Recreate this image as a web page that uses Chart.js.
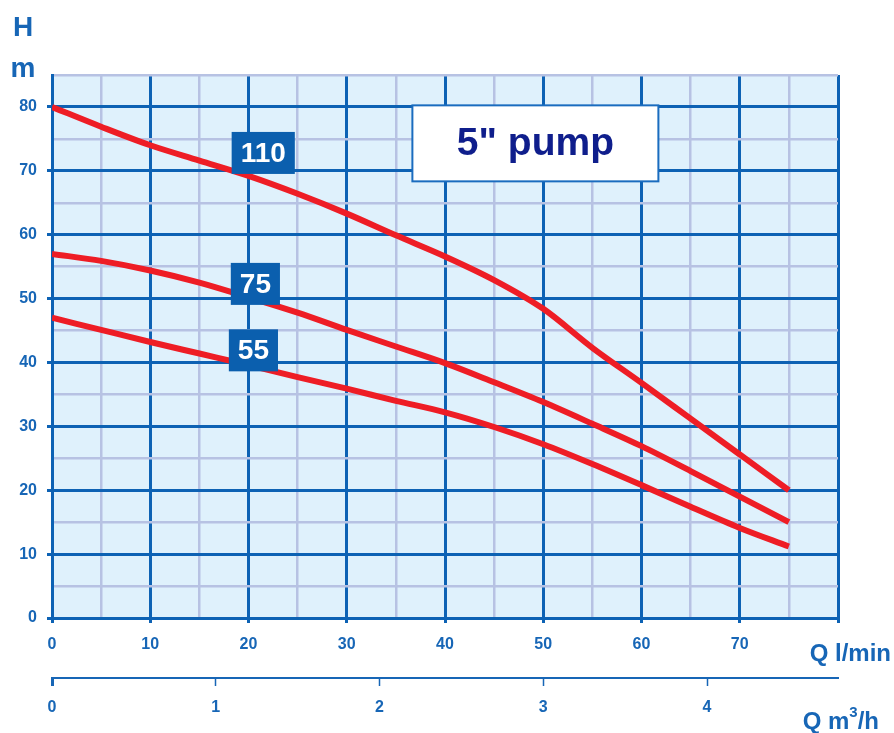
<!DOCTYPE html>
<html>
<head>
<meta charset="utf-8">
<script src="https://cdn.jsdelivr.net/npm/chart.js@4"></script>
<style>
  body { margin: 0; background: #ffffff; }
  #wrap { position: relative; width: 894px; height: 733px; }
</style>
</head>
<body>
<div id="wrap"><canvas id="pumpChart"></canvas></div>
<script>
// flow in l/min
var flow = [0, 5, 10, 15, 20, 25, 30, 35, 40, 45, 50, 55, 60, 65, 70, 75];
// head in m for each motor
var head110 = [80, 76.9, 74, 71.6, 69.2, 66.4, 63.3, 59.9, 56.6, 52.9, 48.4, 42.3, 36.8, 31.2, 25.6, 20];
var head75  = [57, 55.9, 54.4, 52.5, 50.2, 47.8, 45.1, 42.5, 39.9, 36.9, 33.8, 30.4, 26.9, 23, 19, 15];
var head55  = [47, 45.1, 43.2, 41.4, 39.6, 37.7, 35.9, 34, 32.2, 29.9, 27.2, 24.1, 20.8, 17.4, 14.1, 11.2];

var curveNames = ['110', '75', '55'];
// where the name boxes sit (l/min, m)
var nameAtQ = [21.5, 20.7, 20.5];
var nameAtH = [72.8, 52.3, 41.9];

var titleText = '5" pump';
var titleAtQ = 49.2;
var titleAtH = 74.3;

var BLUE = '#0d62b4';
var LAVENDER = '#b7c2e3';
var TEXTBLUE = '#1766b6';
var RED = '#ee1d25';
var FONT = '"Liberation Sans", Arial, sans-serif';

function toPoints(xs, ys) {
	var pts = [];
	for (var i = 0; i < xs.length; i++) {
		pts.push({x: xs[i], y: ys[i]});
	}
	return pts;
}

function isMajor(v) { return Math.abs(v % 10) < 0.001; }

var decorPlugin = {
	id: 'decor',
	beforeDraw: function(chart) {
		var ctx = chart.ctx, a = chart.chartArea;
		ctx.save();
		ctx.fillStyle = '#dff1fc';
		ctx.fillRect(a.left, a.top, a.right - a.left, a.bottom - a.top);
		ctx.restore();
	},
	afterDatasetsDraw: function(chart) {
		var ctx = chart.ctx;
		var xs = chart.scales.x, ys = chart.scales.y;
		ctx.save();

		// curve name boxes
		ctx.font = 'bold 28px ' + FONT;
		ctx.textAlign = 'center';
		ctx.textBaseline = 'middle';
		for (var i = 0; i < curveNames.length; i++) {
			var cx = xs.getPixelForValue(nameAtQ[i]);
			var cy = ys.getPixelForValue(nameAtH[i]);
			var w = ctx.measureText(curveNames[i]).width + 18;
			var h = 42;
			ctx.fillStyle = '#0b5fae';
			ctx.fillRect(cx - w / 2, cy - h / 2, w, h);
			ctx.fillStyle = '#ffffff';
			ctx.fillText(curveNames[i], cx, cy + 1);
		}

		// title box
		var tx = xs.getPixelForValue(titleAtQ);
		var ty = ys.getPixelForValue(titleAtH);
		ctx.fillStyle = '#ffffff';
		ctx.fillRect(tx - 123, ty - 38, 246, 76);
		ctx.strokeStyle = '#1a6cbf';
		ctx.lineWidth = 2;
		ctx.strokeRect(tx - 123, ty - 38, 246, 76);
		ctx.font = 'bold 39px ' + FONT;
		ctx.fillStyle = '#0f1e8c';
		ctx.fillText(titleText, tx, ty + 1);

		// axis titles
		ctx.fillStyle = TEXTBLUE;
		ctx.font = 'bold 28px ' + FONT;
		ctx.textBaseline = 'alphabetic';
		ctx.fillText('H', 23, 36);
		ctx.fillText('m', 23, 77);

		ctx.font = 'bold 24px ' + FONT;
		ctx.textAlign = 'right';
		ctx.fillText('Q l/min', 891, 661);

		var right = 879;
		ctx.fillText('/h', right, 729);
		var wh = ctx.measureText('/h').width;
		ctx.font = 'bold 15px ' + FONT;
		ctx.fillText('3', right - wh, 717);
		var w3 = ctx.measureText('3').width;
		ctx.font = 'bold 24px ' + FONT;
		ctx.fillText('Q m', right - wh - w3, 729);

		ctx.restore();
	}
};

window.onload = function() {
	var canvas = document.getElementById('pumpChart').getContext('2d');

	var lineStyle = {
		borderColor: RED,
		borderWidth: 6,
		pointRadius: 0,
		fill: false,
		cubicInterpolationMode: 'monotone'
	};

	var pumpChart = new Chart(canvas, {
		type: 'line',
		data: {
			datasets: [
				Object.assign({label: curveNames[0], data: toPoints(flow, head110)}, lineStyle),
				Object.assign({label: curveNames[1], data: toPoints(flow, head75)}, lineStyle),
				Object.assign({label: curveNames[2], data: toPoints(flow, head55)}, lineStyle)
			]
		},
		options: {
			responsive: true,
			maintainAspectRatio: false,
			animation: false,
			layout: {padding: {top: 75, right: 56, bottom: 0, left: 0}},
			plugins: {
				legend: {display: false},
				tooltip: {enabled: false}
			},
			scales: {
				x: {
					type: 'linear',
					position: 'bottom',
					min: 0, max: 80,
					afterFit: function(scale) { scale.height = 60; },
					ticks: {
						stepSize: 5,
						padding: 12,
						color: TEXTBLUE,
						font: {family: FONT, size: 16, weight: 'bold'},
						maxRotation: 0,
						autoSkip: false,
						callback: function(v) { return (isMajor(v) && v < 80) ? v : ''; }
					},
					grid: {
						color: function(c) { return isMajor(c.tick.value) ? BLUE : LAVENDER; },
						lineWidth: function(c) { return isMajor(c.tick.value) ? 3 : 2.5; },
						tickColor: function(c) { return isMajor(c.tick.value) ? BLUE : 'rgba(0,0,0,0)'; },
						tickWidth: 3,
						tickLength: 5
					},
					border: {color: BLUE, width: 3}
				},
				x2: {
					type: 'linear',
					position: 'bottom',
					min: 0, max: 4.8,
					afterFit: function(scale) { scale.height = 55; },
					afterBuildTicks: function(scale) {
						scale.ticks = scale.ticks.filter(function(t) { return t.value <= 4; });
					},
					ticks: {
						stepSize: 1,
						padding: 12,
						color: TEXTBLUE,
						font: {family: FONT, size: 16, weight: 'bold'},
						maxRotation: 0,
						autoSkip: false
					},
					grid: {
						drawOnChartArea: false,
						color: TEXTBLUE,
						tickColor: TEXTBLUE,
						tickWidth: function(c) { return c.tick.value === 0 ? 3 : 1.5; },
						tickLength: 8
					},
					border: {color: TEXTBLUE, width: 2}
				},
				y: {
					type: 'linear',
					min: 0, max: 85,
					afterFit: function(scale) { scale.width = 52; },
					ticks: {
						stepSize: 5,
						padding: 10,
						color: TEXTBLUE,
						font: {family: FONT, size: 16, weight: 'bold'},
						autoSkip: false,
						callback: function(v) { return isMajor(v) ? v : ''; }
					},
					grid: {
						color: function(c) { return isMajor(c.tick.value) ? BLUE : LAVENDER; },
						lineWidth: function(c) { return isMajor(c.tick.value) ? 3 : 2.5; },
						tickColor: function(c) { return isMajor(c.tick.value) ? BLUE : 'rgba(0,0,0,0)'; },
						tickWidth: 3,
						tickLength: 5
					},
					border: {color: BLUE, width: 3}
				}
			}
		},
		plugins: [decorPlugin]
	});
};
</script>
</body>
</html>
